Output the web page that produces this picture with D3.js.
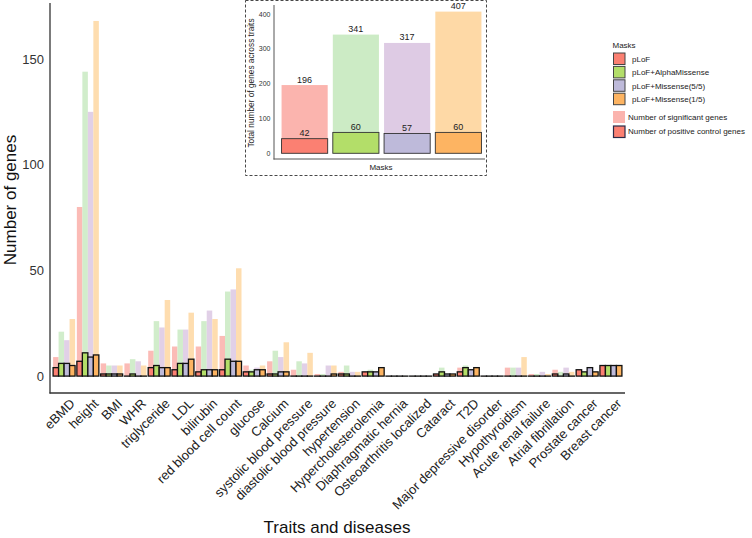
<!DOCTYPE html>
<html><head><meta charset="utf-8">
<script src="https://cdn.jsdelivr.net/npm/d3@7"></script>
<style>body{margin:0;background:#fff;font-family:"Liberation Sans",Arial,sans-serif;}</style>
</head><body>
<svg id="c" width="752" height="538"></svg>
<script>
const traits = ["eBMD","height","BMI","WHR","triglyceride","LDL","bilirubin","red blood cell count","glucose","Calcium","systolic blood pressure","diastolic blood pressure","hypertension","Hypercholesterolemia","Diaphragmatic hernia","Osteoarthritis localized","Cataract","T2D","Major depressive disorder","Hypothyroidism","Acute renal failure","Atrial fibrillation","Prostate cancer","Breast cancer"];
const masks = ["pLoF","pLoF+AlphaMissense","pLoF+Missense(5/5)","pLoF+Missense(1/5)"];
// significant genes per mask
const sigPLoF   = [9,80,6,6,12,14,14,19,5,7,3,1,2,2,0,0,1,4,0,4,1,3,3,5];
const sigAlpha  = [21,144,5,8,26,22,26,40,3,12,7,1,5,3,0,0,4,5,0,4,1,2,2,5];
const sigMis55  = [17,125,5,7,23,22,31,41,4,9,6,5,2,2,0,0,1,3,0,4,2,4,4,5];
const sigMis15  = [27,168,5,5,36,30,27,51,5,16,11,5,2,4,0,0,1,4,0,9,1,2,2,5];
// positive control genes per mask
const posPLoF   = [4,7,1,0,4,3,2,3,2,1,0,0,1,2,0,0,1,2,0,0,0,1,3,5];
const posAlpha  = [6,11,1,1,5,6,3,8,2,1,0,0,1,2,0,0,2,4,0,0,0,0,2,5];
const posMis55  = [6,9,1,0,4,6,3,7,3,2,0,0,0,2,0,0,1,3,0,0,0,1,4,5];
const posMis15  = [5,10,1,0,4,8,3,7,3,2,0,1,0,4,0,0,1,4,0,0,0,0,2,5];
// inset totals
const totalSig = [196,341,317,407];
const totalPos = [42,60,57,60];
const yTicks = [0,50,100,150];
const insetTicks = [0,100,200,300,400];

const sigColors = ["#FBB4AE","#CCEBC5","#DECBE4","#FED9A6"];
const posColors = ["#FB8072","#B3DE69","#BEBADA","#FDB462"];

const sigSeries = [sigPLoF,sigAlpha,sigMis55,sigMis15];
const posSeries = [posPLoF,posAlpha,posMis55,posMis15];

const svg = d3.select("#c");
const axisCol = "#333";
const txtCol = "#333";

// main scales
const x = d3.scaleBand().domain(traits).range([50,625]).paddingInner(0.075).paddingOuter(0.13);
const xi = d3.scaleBand().domain(masks).range([0,x.bandwidth()]);
const y = d3.scaleLinear().domain([-8,176.5]).range([393,3]);

const g = svg.append("g");
// significant bars
masks.forEach((m,mi)=>{
  g.selectAll(null).data(traits).enter().append("rect")
    .attr("x",t=>x(t)+xi(m)).attr("width",xi.bandwidth())
    .attr("y",(t,i)=>y(sigSeries[mi][i])).attr("height",(t,i)=>y(0)-y(sigSeries[mi][i]))
    .attr("fill",sigColors[mi]).attr("opacity",0.9);
});
// positive control bars (zero values drawn as flat outlined bars)
masks.forEach((m,mi)=>{
  g.selectAll(null).data(traits).enter().append("rect")
    .attr("x",t=>x(t)+xi(m)).attr("width",xi.bandwidth())
    .attr("y",(t,i)=>y(posSeries[mi][i])).attr("height",(t,i)=>Math.max(0.05,y(0)-y(posSeries[mi][i])))
    .attr("fill",posColors[mi]).attr("stroke","#111").attr("stroke-width",1.3);
});

// axes lines
svg.append("line").attr("x1",50).attr("x2",50).attr("y1",3).attr("y2",393.5).attr("stroke",axisCol).attr("stroke-width",1.3);
svg.append("line").attr("x1",49.5).attr("x2",625).attr("y1",393).attr("y2",393).attr("stroke",axisCol).attr("stroke-width",1.3);

// y tick labels
svg.selectAll(null).data(yTicks).enter().append("text")
  .attr("x",44).attr("y",d=>y(d)).attr("dy","0.36em").attr("text-anchor","end")
  .attr("font-size",13).attr("fill",txtCol).text(d=>d);

// x tick labels
svg.selectAll(null).data(traits).enter().append("text")
  .attr("transform",t=>`translate(${x(t)+x.bandwidth()/2+5},${398}) rotate(-45)`)
  .attr("text-anchor","end").attr("dy","0.7em")
  .attr("font-size",13).attr("fill","#222").text(t=>t);

// axis titles
svg.append("text").attr("transform","translate(16,200) rotate(-90)").attr("text-anchor","middle")
  .attr("font-size",17).attr("fill","#111").text("Number of genes");
svg.append("text").attr("x",337).attr("y",533).attr("text-anchor","middle")
  .attr("font-size",17).attr("fill","#111").text("Traits and diseases");

// ---------- inset ----------
svg.append("rect").attr("x",245.5).attr("y",0.5).attr("width",241).attr("height",175)
  .attr("fill","#fff").attr("stroke","#333").attr("stroke-dasharray","3,2").attr("stroke-width",0.9);
const ix = d3.scaleBand().domain(masks).range([279,484]).paddingInner(0.1).paddingOuter(0.05);
const iy = d3.scaleLinear().domain([-16.4,426]).range([159,5]);
const ig = svg.append("g");
ig.selectAll(null).data(masks).enter().append("rect")
  .attr("x",m=>ix(m)).attr("width",ix.bandwidth())
  .attr("y",(m,i)=>iy(totalSig[i])).attr("height",(m,i)=>iy(0)-iy(totalSig[i]))
  .attr("fill",(m,i)=>sigColors[i]);
ig.selectAll(null).data(masks).enter().append("rect")
  .attr("x",m=>ix(m)).attr("width",ix.bandwidth())
  .attr("y",(m,i)=>iy(totalPos[i])).attr("height",(m,i)=>iy(0)-iy(totalPos[i]))
  .attr("fill",(m,i)=>posColors[i]).attr("stroke","#333").attr("stroke-width",0.9);
ig.selectAll(null).data(masks).enter().append("text")
  .attr("x",m=>ix(m)+ix.bandwidth()/2).attr("y",(m,i)=>iy(totalSig[i])-2.5)
  .attr("text-anchor","middle").attr("font-size",9).attr("fill","#222").text((m,i)=>totalSig[i]);
ig.selectAll(null).data(masks).enter().append("text")
  .attr("x",m=>ix(m)+ix.bandwidth()/2).attr("y",(m,i)=>iy(totalPos[i])-2.5)
  .attr("text-anchor","middle").attr("font-size",9).attr("fill","#222").text((m,i)=>totalPos[i]);
svg.append("line").attr("x1",274).attr("x2",274).attr("y1",5).attr("y2",159.5).attr("stroke","#555").attr("stroke-width",1);
svg.append("line").attr("x1",273.5).attr("x2",485).attr("y1",159).attr("y2",159).attr("stroke","#555").attr("stroke-width",1);
svg.selectAll(null).data(insetTicks).enter().append("text")
  .attr("x",270.5).attr("y",d=>iy(d)).attr("dy","0.36em").attr("text-anchor","end")
  .attr("font-size",7).attr("fill","#333").text(d=>d);
svg.append("text").attr("transform","translate(254,83) rotate(-90)").attr("text-anchor","middle")
  .attr("font-size",8.3).attr("fill","#222").text("Total number of genes across traits");
svg.append("text").attr("x",381).attr("y",169.5).attr("text-anchor","middle")
  .attr("font-size",8).attr("fill","#222").text("Masks");

// ---------- legend ----------
const lg = svg.append("g");
lg.append("text").attr("x",612.5).attr("y",48).attr("font-size",8).attr("fill","#222").text("Masks");
masks.forEach((m,i)=>{
  const yy = 53 + i*13.4;
  lg.append("rect").attr("x",613.5).attr("y",yy).attr("width",11.5).attr("height",11.5)
    .attr("fill",posColors[i]).attr("stroke","#444").attr("stroke-width",1);
  lg.append("text").attr("x",632).attr("y",yy+6).attr("dy","0.35em").attr("font-size",8).attr("fill","#222").text(m);
});
lg.append("rect").attr("x",613).attr("y",111).attr("width",12).attr("height",12).attr("fill",sigColors[0]);
lg.append("text").attr("x",628).attr("y",117).attr("dy","0.35em").attr("font-size",8).attr("fill","#222").text("Number of significant genes");
lg.append("rect").attr("x",613.5).attr("y",126).attr("width",11.5).attr("height",11.5).attr("fill",posColors[0]).attr("stroke","#2b2b48").attr("stroke-width",1.2);
lg.append("text").attr("x",628).attr("y",131.5).attr("dy","0.35em").attr("font-size",8).attr("fill","#222").text("Number of positive control genes");
</script>
</body></html>
